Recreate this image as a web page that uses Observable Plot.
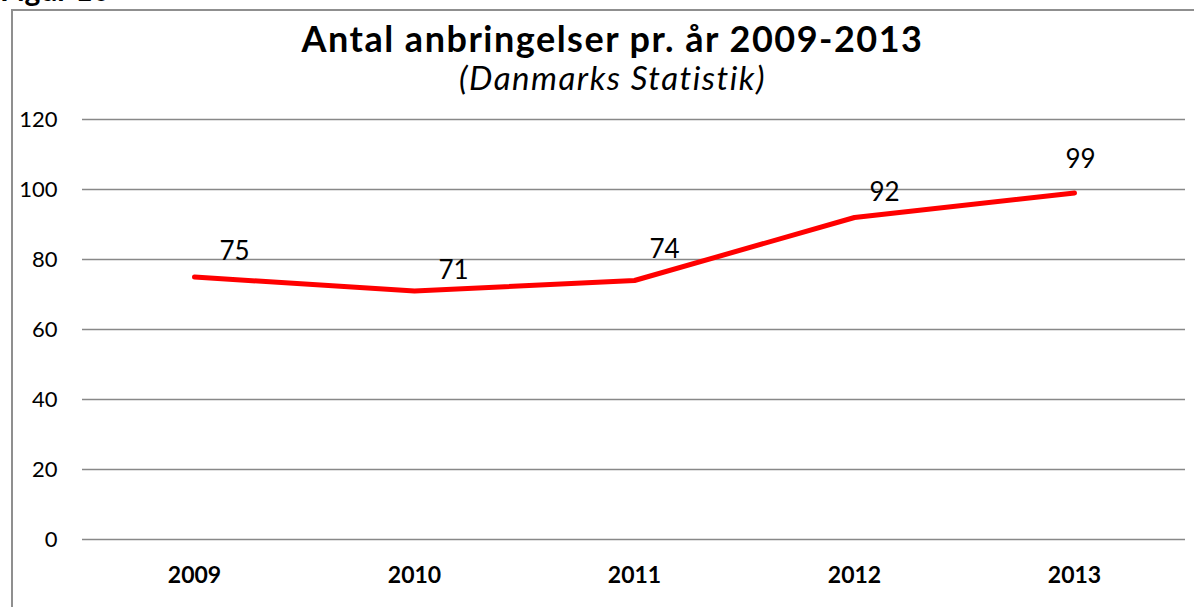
<!DOCTYPE html>
<html>
<head>
<meta charset="utf-8">
<script src="https://cdn.jsdelivr.net/npm/d3@7"></script>
<script src="https://cdn.jsdelivr.net/npm/@observablehq/plot@0.6"></script>
<style>
  html, body { margin: 0; padding: 0; background: #fff; overflow: hidden; }
  #wrap { position: relative; width: 1194px; height: 607px; font-family: Lato, "Open Sans", sans-serif; }
  #wrap svg { position: absolute; left: 0; top: 0; }
  .frame-left { position: absolute; left: 11px; top: 9px; width: 1.5px; height: 700px; background: #8f8f8f; }
  .frame-top { position: absolute; left: 11px; top: 9px; width: 1200px; height: 1.5px; background: #8f8f8f; }
  .fig { position: absolute; left: 0; top: -26px; font-weight: bold; font-size: 30px; line-height: 1; color: #000; }
  .title { position: absolute; left: 0; width: 1225px; text-align: center; top: 20px; font-weight: bold; font-size: 36px; letter-spacing: 1.5px; line-height: 1; color: #000; white-space: nowrap; }
  .subtitle { position: absolute; left: 0; width: 1225px; text-align: center; top: 61px; font-style: italic; font-size: 33px; letter-spacing: 1.5px; line-height: 1; color: #000; white-space: nowrap; }
</style>
</head>
<body>
<div id="wrap">
  <div class="fig">Figur 10</div>
  <div class="frame-left"></div>
  <div class="frame-top"></div>
  <div class="title">Antal anbringelser pr. år 2009-2013</div>
  <div class="subtitle">(Danmarks Statistik)</div>
</div>
<script>
const years = ["2009", "2010", "2011", "2012", "2013"];
const values = [75, 71, 74, 92, 99];
const yTicks = [0, 20, 40, 60, 80, 100, 120];
// label nudges (dx, dy) as placed in the original chart
const labelNudges = [[40, -25], [39, -20], [30, -31], [30, -25], [6, -33]];

const data = years.map((y, i) => ({year: y, value: values[i]}));

const labelMarks = data.map((d, i) =>
  Plot.text([d], {
    x: "year", y: "value", text: d => String(d.value),
    dx: labelNudges[i][0], dy: labelNudges[i][1],
    fontSize: 26, fill: "#000"
  })
);

const chart = Plot.plot({
  width: 1194,
  height: 607,
  marginLeft: 82,
  marginRight: 9,
  marginTop: 119,
  marginBottom: 68,
  style: {fontFamily: "Lato, 'Open Sans', sans-serif", background: "transparent", color: "#000"},
  x: {type: "point", domain: years, padding: 0.5},
  y: {domain: [0, 120]},
  marks: [
    Plot.ruleY(yTicks, {stroke: "#888", strokeWidth: 1.3}),
    Plot.axisY({ticks: yTicks, tickSize: 0, tickPadding: 25, fontSize: 22, label: null}),
    Plot.axisX({tickSize: 0, tickPadding: 27, fontSize: 23, fontWeight: "bold", label: null}),
    Plot.line(data, {x: "year", y: "value", stroke: "#ff0000", strokeWidth: 5, strokeLinecap: "round", strokeLinejoin: "round"}),
    ...labelMarks
  ]
});
document.getElementById("wrap").appendChild(chart);
</script>
</body>
</html>
